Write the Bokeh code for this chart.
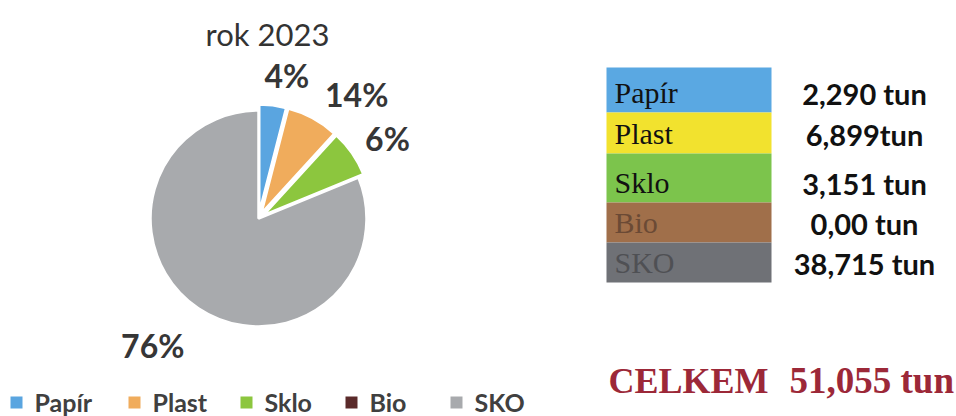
import math
from bokeh.plotting import figure
from bokeh.models import Range1d
from bokeh.core.properties import value
from bokeh.embed import file_html
from bokeh.resources import INLINE

# ---------------- data ----------------
categories = ["Papír", "Plast", "Sklo", "Bio", "SKO"]
tonnes = [2.290, 6.899, 3.151, 0.00, 38.715]
tonne_labels = ["2,290 tun", "6,899tun", "3,151 tun", "0,00 tun", "38,715 tun"]
# slice shares as drawn in the original pie (percent of the circle)
pie_shares = [4.0, 7.8, 7.0, 0.0, 81.2]
pct_labels = ["4%", "14%", "6%", "", "76%"]
title_text = "rok 2023"
total_word = "CELKEM"
total_label = "51,055 tun"

pie_colors = ["#5aa5e0", "#f0ac5c", "#8cc63e", "#5a2a2a", "#a8aaad"]
table_colors = ["#5aa8e2", "#f2e22e", "#7cc44c", "#a06f4a", "#6f7176"]
table_text_colors = ["#111111", "#111111", "#111111", "#6b4a35", "#4f5054"]

# ---------------- layout ----------------
W, H = 956, 416
def X(px):  # screenshot px -> data
    return px
def Y(py):
    return H - py

p = figure(width=W, height=H, output_backend="svg", toolbar_location=None,
           x_range=Range1d(0, W), y_range=Range1d(0, H), min_border=0)
p.axis.visible = False
p.grid.visible = False
p.outline_line_color = None
p.background_fill_color = "white"
p.border_fill_color = "white"

# pie
cx, cy, R = X(258), Y(218), 108
explode = [6, 6, 6, 0, 0]
total_share = sum(pie_shares)
cum = 0.0
label_r = [146, 158, 152, 0, 165]
label_nudge = [4, 10, 3, 0, 6]
for i, s in enumerate(pie_shares):
    t0 = cum / total_share * 2 * math.pi
    cum += s
    t1 = cum / total_share * 2 * math.pi
    mid = (t0 + t1) / 2
    if s <= 0:
        continue
    ox = explode[i] * math.sin(mid)
    oy = explode[i] * math.cos(mid)
    p.wedge(x=cx + ox, y=cy + oy, radius=R,
            start_angle=math.pi / 2 - t1, end_angle=math.pi / 2 - t0,
            fill_color=pie_colors[i], line_color="white", line_width=2.5)
    if pct_labels[i]:
        a = mid + math.radians(label_nudge[i])
        p.text(x=[cx + label_r[i] * math.sin(a)], y=[cy + label_r[i] * math.cos(a)],
               text=[pct_labels[i]], text_align="center", text_baseline="middle",
               text_font=value("Lato"), text_font_style="bold",
               text_font_size="32px", text_color="#363636")

# title
p.text(x=[X(267)], y=[Y(33)], text=[title_text], text_align="center",
       text_baseline="middle", text_font=value("Lato"), text_font_size="31px",
       text_color="#333333")

# legend
legend_x = [10, 128, 240, 345, 450]
for i, c in enumerate(categories):
    p.quad(left=X(legend_x[i]), right=X(legend_x[i] + 12),
           top=Y(396), bottom=Y(408), fill_color=pie_colors[i], line_color=None)
    p.text(x=[X(legend_x[i] + 24)], y=[Y(401)], text=[c], text_align="left",
           text_baseline="middle", text_font=value("Lato"), text_font_style="bold",
           text_font_size="25px", text_color="#404040")

# table
row_edges = [67, 112, 153, 202, 242, 282]
tx0, tx1 = 606, 771
for i, c in enumerate(categories):
    top, bot = row_edges[i], row_edges[i + 1]
    p.quad(left=X(tx0), right=X(tx1), top=Y(top), bottom=Y(bot),
           fill_color=table_colors[i], line_color=None)
for i, c in enumerate(categories):
    bot = row_edges[i + 1]
    p.text(x=[X(614)], y=[Y(bot - 20)], text=[c], text_align="left",
           text_baseline="middle", text_font=value("Liberation Serif"),
           text_font_size="30px", text_color=table_text_colors[i])
    p.text(x=[X(864)], y=[Y(bot - 19)], text=[tonne_labels[i]],
           text_align="center", text_baseline="middle", text_font=value("Lato"),
           text_font_style="bold", text_font_size="29px", text_color="#111111")

# total
p.text(x=[X(608)], y=[Y(380)], text=[total_word], text_align="left",
       text_baseline="middle", text_font=value("Liberation Serif"),
       text_font_style="bold", text_font_size="36px", text_color="#9c2838")
p.text(x=[X(789)], y=[Y(380)], text=[total_label], text_align="left",
       text_baseline="middle", text_font=value("Liberation Serif"),
       text_font_style="bold", text_font_size="37px", text_color="#9c2838")

open("out.html", "w").write(file_html(p, INLINE))
